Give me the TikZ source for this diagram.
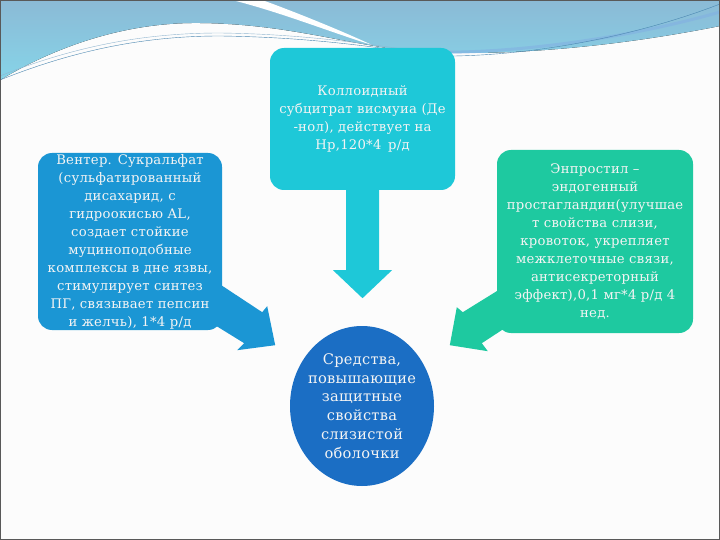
\documentclass[tikz,border=0pt]{standalone}
\usepackage{fontspec}
\setmainfont{DejaVu Serif}
\newfontfamily\boxfont[LetterSpace=2]{DejaVu Serif}
\usetikzlibrary{calc, shapes.geometric}

\definecolor{kolcol}{HTML}{1EC8D8}
\definecolor{lefcol}{HTML}{1B96D4}
\definecolor{rigcol}{HTML}{1EC9A0}
\definecolor{midcol}{HTML}{1B6EC4}
\definecolor{bandtop}{HTML}{8BBAD6}
\definecolor{bandbot}{HTML}{86D4E8}
\definecolor{wavecol}{HTML}{4A86B0}
\definecolor{txtcol}{HTML}{F4F4F4}

\tikzset{
  callout/.style={rounded corners=14pt, inner sep=0pt, align=center, text=txtcol,
    font=\boxfont\fontsize{13.2}{18}\selectfont},
  bubble/.style={ellipse, inner sep=-5pt, align=center, text=txtcol,
    font=\boxfont\fontsize{14.6}{18.8}\selectfont},
}

\begin{document}
\begin{tikzpicture}[x=1pt, y=-1pt]
\useasboundingbox (0,0) rectangle (720,540);
\fill[white!98!gray] (0,0) rectangle (720,540);
% top band of the slide
\fill[top color=bandtop, bottom color=bandbot] (0,0) -- (720,0) -- (720,26)
  .. controls (600,50) and (480,58) .. (400,50)
  .. controls (330,40) and (280,24) .. (200,23)
  .. controls (120,22) and (50,50) .. (0,80) -- cycle;
\fill[white] (232,0) .. controls (280,12) and (330,32) .. (372,45)
  .. controls (340,30) and (290,10) .. (262,0) -- cycle;
\draw[cyan!60!blue!50, line width=3pt, opacity=0.6] (420,52) .. controls (520,55) and (640,35) .. (720,12);
\draw[wavecol, thin] (0,80) .. controls (80,48) and (150,36) .. (220,36) .. controls (300,37) and (360,45) .. (410,52);
\draw[wavecol!60, thin] (0,76) .. controls (80,44) and (150,33) .. (220,33) .. controls (300,34) and (360,43) .. (410,50);
\draw[wavecol, thin] (430,56) .. controls (530,58) and (640,35) .. (720,4);
\draw[gray!70!black, line width=1.2pt] (0.6,0.6) rectangle (719.4,539.4);

% boxes
\node[callout, fill=kolcol, minimum width=185pt, minimum height=142pt] (kolloid) at (362.5,119)
  {Коллоидный\\субцитрат висмуиа (Де\\-нол), действует на\\Нр,120*4\enspace р/д};
\node[callout, fill=lefcol, minimum width=184pt, minimum height=177pt] (venter) at (130,241.5)
  {Вентер. Сукральфат\\(сульфатированный\\дисахарид, с\\гидроокисью AL,\\создает стойкие\\муциноподобные\\комплексы в дне язвы,\\стимулирует синтез\\ПГ, связывает пепсин\\и желчь), 1*4 р/д};
\node[callout, fill=rigcol, minimum width=196pt, minimum height=183pt] (enprost) at (595,241.5)
  {Энпростил –\\эндогенный\\простагландин(улучшае\\т свойства слизи,\\кровоток, укрепляет\\межклеточные связи,\\антисекреторный\\эффект),0,1 мг*4 р/д 4\\нед.};
\node[bubble, fill=midcol, minimum width=144pt, minimum height=160pt] (sredstva) at (362,406)
  {Средства,\\повышающие\\защитные\\свойства\\слизистой\\оболочки};

% arrows
\fill[kolcol] ($(kolloid.south)+(-16.5,-2)$) -- ($(kolloid.south)+(16.5,-2)$)
  -- ($(kolloid.south)+(16.5,80)$) -- ($(kolloid.south)+(29.5,80)$)
  -- ($(kolloid.south)+(0,108)$) -- ($(kolloid.south)+(-29.5,80)$)
  -- ($(kolloid.south)+(-16.5,80)$) -- cycle;
\fill[lefcol] ($(venter.south east)+(-7,-49)$) -- ($(venter.south east)+(40,-18)$)
  -- ($(venter.south east)+(45,-24)$) -- ($(venter.south east)+(53,15)$)
  -- ($(venter.south east)+(15,20)$) -- ($(venter.south east)+(22,13)$)
  -- ($(venter.south east)+(-12,-8)$) -- cycle;
\fill[rigcol] ($(enprost.south west)+(8,-47)$) -- ($(enprost.south west)+(-34,-21)$)
  -- ($(enprost.south west)+(-40,-26)$) -- ($(enprost.south west)+(-47,12)$)
  -- ($(enprost.south west)+(-9,18)$) -- ($(enprost.south west)+(-15,10)$)
  -- ($(enprost.south west)+(11,-7)$) -- cycle;
\end{tikzpicture}
\end{document}
